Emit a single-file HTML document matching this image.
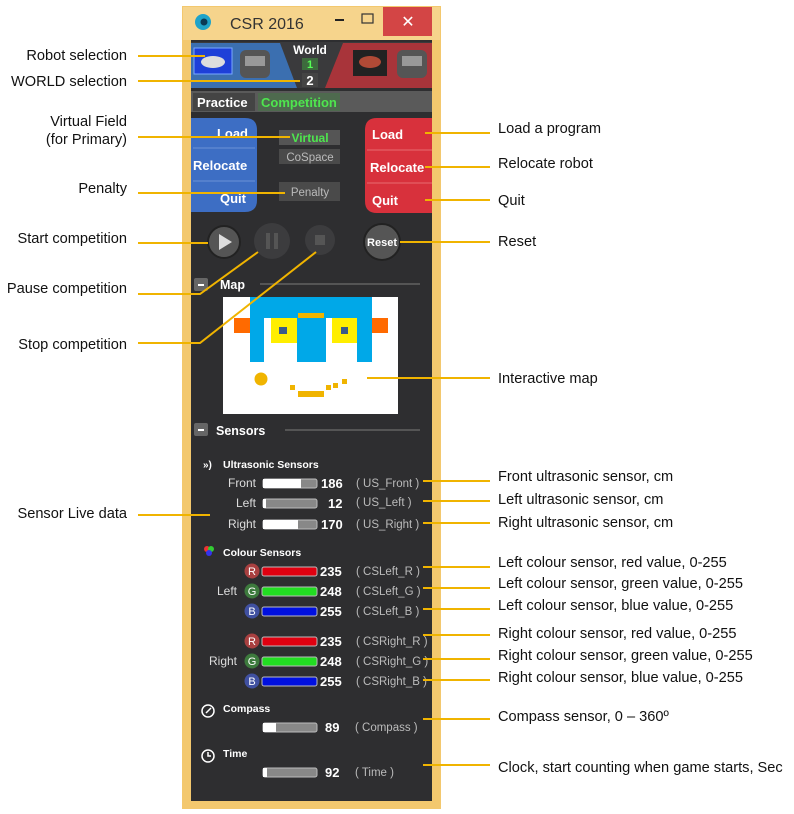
<!DOCTYPE html>
<html><head><meta charset="utf-8"><style>
html,body{margin:0;padding:0;background:#fff;}
svg{display:block;}
.a{font-family:"Liberation Sans",sans-serif;font-size:14.6px;fill:#111;}
.w{font-family:"Liberation Sans",sans-serif;font-weight:bold;fill:#fff;}
.g{font-family:"Liberation Sans",sans-serif;fill:#bbb;font-size:11.5px;}
.l{stroke:#f0b400;stroke-width:2;fill:none;}
</style></head><body>
<svg width="794" height="814" viewBox="0 0 794 814" xmlns="http://www.w3.org/2000/svg">
<rect x="182" y="6" width="259" height="803" fill="#f3c86e"/>
<rect x="183" y="7" width="257" height="33" fill="#f6d48c"/>
<rect x="191" y="40" width="241" height="761" fill="#2e2e30"/>
<circle cx="203" cy="22" r="8" fill="#1fa3c9"/><circle cx="204" cy="22" r="3.5" fill="#0b3a55"/>
<text x="230" y="29" font-family="Liberation Sans,sans-serif" font-size="16" fill="#333">CSR 2016</text>
<rect x="335" y="19" width="9" height="2" fill="#222"/>
<rect x="362" y="14" width="11" height="9" fill="none" stroke="#333" stroke-width="1.2"/>
<rect x="383" y="7" width="49" height="29" fill="#d34545"/>
<text x="408" y="27" text-anchor="middle" font-family="Liberation Sans,sans-serif" font-size="16" fill="#fff">✕</text>
<rect x="191" y="42" width="241" height="46" fill="#3a3a3c"/>
<polygon points="191,43 280,43 297,88 191,88" fill="#3b6fb0"/>
<rect x="194" y="48" width="38" height="26" fill="#1e40d8" stroke="#7aa8ff"/>
<ellipse cx="213" cy="62" rx="12" ry="6" fill="#ddd"/>
<rect x="240" y="50" width="30" height="28" rx="6" fill="#555"/><rect x="245" y="56" width="20" height="10" fill="#999"/>
<polygon points="343,43 432,43 432,88 325,88" fill="#a8343a"/>
<rect x="353" y="50" width="34" height="26" fill="#222"/><ellipse cx="370" cy="62" rx="11" ry="6" fill="#b04a36"/>
<rect x="397" y="50" width="30" height="28" rx="6" fill="#555"/><rect x="402" y="56" width="20" height="10" fill="#999"/>
<text x="310" y="54" text-anchor="middle" class="w" font-size="12">World</text>
<rect x="302" y="58" width="16" height="12" fill="#3d6b3d"/><text x="310" y="68" text-anchor="middle" font-family="Liberation Sans,sans-serif" font-size="11" fill="#5f5" font-weight="bold">1</text>
<rect x="302" y="73" width="16" height="14" fill="#444"/><text x="310" y="85" text-anchor="middle" class="w" font-size="13">2</text>
<rect x="191" y="91" width="241" height="21" fill="#5a5a5a"/>
<rect x="193" y="93" width="62" height="18" fill="#444"/>
<text x="197" y="107" class="w" font-size="13">Practice</text>
<rect x="258" y="93" width="82" height="18" fill="#4e6a4e"/>
<text x="261" y="107" font-family="Liberation Sans,sans-serif" font-weight="bold" font-size="13" fill="#4ee64e">Competition</text>
<path d="M191,118 H245 Q257,118 257,130 V200 Q257,212 245,212 H191 Z" fill="#3d6ec4"/>
<line x1="193" y1="148" x2="255" y2="148" stroke="#6a93d6"/><line x1="193" y1="181" x2="255" y2="181" stroke="#6a93d6"/>
<text x="248" y="138" text-anchor="end" class="w" font-size="13">Load</text>
<text x="193" y="170" class="w" font-size="13">Relocate</text>
<text x="246" y="203" text-anchor="end" class="w" font-size="13">Quit</text>
<rect x="279" y="130" width="61" height="15" fill="#555"/><text x="310" y="142" text-anchor="middle" font-family="Liberation Sans,sans-serif" font-weight="bold" font-size="12" fill="#4ee64e">Virtual</text>
<rect x="279" y="149" width="61" height="15" fill="#4a4a4a"/><text x="310" y="161" text-anchor="middle" class="g" font-size="12.5">CoSpace</text>
<rect x="279" y="182" width="61" height="19" fill="#4a4a4a"/><text x="310" y="196" text-anchor="middle" class="g" font-size="12.5">Penalty</text>
<path d="M432,118 H377 Q365,118 365,130 V201 Q365,213 377,213 H432 Z" fill="#d8313c"/>
<line x1="367" y1="150" x2="432" y2="150" stroke="#e86a70"/><line x1="367" y1="183" x2="432" y2="183" stroke="#e86a70"/>
<text x="372" y="139" class="w" font-size="13">Load</text>
<text x="370" y="172" class="w" font-size="13">Relocate</text>
<text x="372" y="205" class="w" font-size="13">Quit</text>
<circle cx="224" cy="242" r="16" fill="#555" stroke="#222" stroke-width="2"/><polygon points="219,234 219,250 232,242" fill="#ddd"/>
<circle cx="272" cy="241" r="18" fill="#3c3c3e"/><rect x="266" y="233" width="4" height="16" fill="#555"/><rect x="274" y="233" width="4" height="16" fill="#555"/>
<circle cx="320" cy="240" r="15" fill="#3c3c3e"/><rect x="315" y="235" width="10" height="10" fill="#555"/>
<circle cx="382" cy="242" r="18" fill="#555" stroke="#222" stroke-width="2"/><text x="382" y="246" text-anchor="middle" class="w" font-size="11">Reset</text>
<rect x="194" y="278" width="14" height="13" rx="2" fill="#666"/><rect x="198" y="284" width="6" height="2" fill="#fff"/>
<text x="220" y="289" class="w" font-size="12.5">Map</text>
<line x1="260" y1="284" x2="420" y2="284" stroke="#555" stroke-width="2"/>
<rect x="223" y="297" width="175" height="117" fill="#fff"/>
<rect x="234" y="318" width="16" height="15" fill="#ff6a00"/>
<rect x="372" y="318" width="16" height="15" fill="#ff6a00"/>
<rect x="250" y="297" width="122" height="21" fill="#00a8e8"/>
<rect x="250" y="297" width="14" height="65" fill="#00a8e8"/>
<rect x="357" y="297" width="15" height="65" fill="#00a8e8"/>
<rect x="297" y="297" width="29" height="65" fill="#00a8e8"/>
<rect x="298" y="313" width="26" height="5" fill="#f0b400"/>
<rect x="271" y="318" width="26" height="25" fill="#ffee00"/><rect x="279" y="327" width="8" height="7" fill="#3a5a8a"/>
<rect x="332" y="318" width="25" height="25" fill="#ffee00"/><rect x="341" y="327" width="7" height="7" fill="#3a5a8a"/>
<circle cx="261" cy="379" r="6.5" fill="#f0b400"/>
<rect x="290" y="385" width="5" height="5" fill="#f0b400"/><rect x="298" y="391" width="26" height="6" fill="#f0b400"/>
<rect x="326" y="385" width="5" height="5" fill="#f0b400"/><rect x="333" y="383" width="5" height="5" fill="#f0b400"/><rect x="342" y="379" width="5" height="5" fill="#f0b400"/>
<rect x="194" y="423" width="14" height="13" rx="2" fill="#666"/><rect x="198" y="429" width="6" height="2" fill="#fff"/>
<text x="216" y="435" class="w" font-size="12.5">Sensors</text>
<line x1="285" y1="430" x2="420" y2="430" stroke="#555" stroke-width="2"/>
<text x="203" y="468" class="w" font-size="10">»)</text>
<text x="223" y="468" class="w" font-size="10.5">Ultrasonic Sensors</text>
<g font-family="Liberation Sans,sans-serif" font-size="12" fill="#ddd" text-anchor="end">
<text x="256" y="487">Front</text><text x="256" y="507">Left</text><text x="256" y="528">Right</text>
</g>
<rect x="263" y="479" width="54" height="9" rx="2" fill="#888" stroke="#bbb"/><rect x="263" y="479" width="38" height="9" fill="#fff"/>
<rect x="263" y="499" width="54" height="9" rx="2" fill="#888" stroke="#bbb"/><rect x="263" y="499" width="3" height="9" fill="#fff"/>
<rect x="263" y="520" width="54" height="9" rx="2" fill="#888" stroke="#bbb"/><rect x="263" y="520" width="35" height="9" fill="#fff"/>
<text x="321" y="488" class="w" font-size="13">186</text><text x="328" y="508" class="w" font-size="13">12</text><text x="321" y="529" class="w" font-size="13">170</text>
<g class="g"><text x="356" y="487">( US_Front )</text><text x="356" y="506">( US_Left )</text><text x="356" y="528">( US_Right )</text></g>
<circle cx="207" cy="549" r="3" fill="#e33"/><circle cx="211" cy="549" r="3" fill="#3c3"/><circle cx="209" cy="553" r="3" fill="#33e"/>
<text x="223" y="556" class="w" font-size="10.5">Colour Sensors</text>
<g font-family="Liberation Sans,sans-serif" font-size="12" fill="#ddd" text-anchor="end"><text x="237" y="595">Left</text><text x="237" y="665">Right</text></g>
<g font-family="Liberation Sans,sans-serif" font-size="11" fill="#fff" text-anchor="middle">
<circle cx="252" cy="571" r="7.5" fill="#a84040"/><text x="252" y="575">R</text>
<circle cx="252" cy="591" r="7.5" fill="#3d7a3d"/><text x="252" y="595">G</text>
<circle cx="252" cy="611" r="7.5" fill="#4050a0"/><text x="252" y="615">B</text>
<circle cx="252" cy="641" r="7.5" fill="#a84040"/><text x="252" y="645">R</text>
<circle cx="252" cy="661" r="7.5" fill="#3d7a3d"/><text x="252" y="665">G</text>
<circle cx="252" cy="681" r="7.5" fill="#4050a0"/><text x="252" y="685">B</text>
</g>
<g stroke="#bbb">
<rect x="262" y="567" width="55" height="9" rx="2" fill="#e00010"/>
<rect x="262" y="587" width="55" height="9" rx="2" fill="#22dd22"/>
<rect x="262" y="607" width="55" height="9" rx="2" fill="#0010e0"/>
<rect x="262" y="637" width="55" height="9" rx="2" fill="#e00010"/>
<rect x="262" y="657" width="55" height="9" rx="2" fill="#22dd22"/>
<rect x="262" y="677" width="55" height="9" rx="2" fill="#0010e0"/>
</g>
<g class="w" font-size="13"><text x="320" y="576">235</text><text x="320" y="596">248</text><text x="320" y="616">255</text><text x="320" y="646">235</text><text x="320" y="666">248</text><text x="320" y="686">255</text></g>
<g class="g"><text x="356" y="575">( CSLeft_R )</text><text x="356" y="595">( CSLeft_G )</text><text x="356" y="615">( CSLeft_B )</text><text x="356" y="645">( CSRight_R )</text><text x="356" y="665">( CSRight_G )</text><text x="356" y="685">( CSRight_B )</text></g>
<circle cx="208" cy="711" r="6" fill="none" stroke="#fff" stroke-width="1.5"/><line x1="206" y1="713" x2="211" y2="708" stroke="#fff" stroke-width="1.5"/>
<text x="223" y="712" class="w" font-size="10.5">Compass</text>
<rect x="263" y="723" width="54" height="9" rx="2" fill="#888" stroke="#bbb"/><rect x="263" y="723" width="13" height="9" fill="#fff"/>
<text x="325" y="732" class="w" font-size="13">89</text><text x="355" y="731" class="g">( Compass )</text>
<circle cx="208" cy="756" r="6" fill="none" stroke="#fff" stroke-width="1.5"/><path d="M208,752 V756 H211" stroke="#fff" fill="none" stroke-width="1.5"/>
<text x="223" y="757" class="w" font-size="10.5">Time</text>
<rect x="263" y="768" width="54" height="9" rx="2" fill="#888" stroke="#bbb"/><rect x="263" y="768" width="4" height="9" fill="#fff"/>
<text x="325" y="777" class="w" font-size="13">92</text><text x="355" y="776" class="g">( Time )</text>
<g class="l">
<line x1="138" y1="56" x2="205" y2="56"/>
<line x1="138" y1="81" x2="300" y2="81"/>
<line x1="138" y1="137" x2="290" y2="137"/>
<line x1="138" y1="193" x2="285" y2="193"/>
<line x1="138" y1="243" x2="208" y2="243"/>
<polyline points="138,294 200,294 258,252"/>
<polyline points="138,343 200,343 316,252"/>
<line x1="138" y1="515" x2="210" y2="515"/>
<line x1="425" y1="133" x2="490" y2="133"/>
<line x1="425" y1="167" x2="490" y2="167"/>
<line x1="425" y1="200" x2="490" y2="200"/>
<line x1="400" y1="242" x2="490" y2="242"/>
<line x1="367" y1="378" x2="490" y2="378"/>
<line x1="423" y1="481" x2="490" y2="481"/>
<line x1="423" y1="501" x2="490" y2="501"/>
<line x1="423" y1="523" x2="490" y2="523"/>
<line x1="423" y1="567" x2="490" y2="567"/>
<line x1="423" y1="588" x2="490" y2="588"/>
<line x1="423" y1="609" x2="490" y2="609"/>
<line x1="423" y1="635" x2="490" y2="635"/>
<line x1="423" y1="659" x2="490" y2="659"/>
<line x1="423" y1="680" x2="490" y2="680"/>
<line x1="423" y1="719" x2="490" y2="719"/>
<line x1="423" y1="765" x2="490" y2="765"/>
</g>
<g class="a" text-anchor="end">
<text x="127" y="60">Robot selection</text>
<text x="127" y="86">WORLD selection</text>
<text x="127" y="126">Virtual Field</text>
<text x="127" y="144">(for Primary)</text>
<text x="127" y="193">Penalty</text>
<text x="127" y="243">Start competition</text>
<text x="127" y="293">Pause competition</text>
<text x="127" y="349">Stop competition</text>
<text x="127" y="518">Sensor Live data</text>
</g>
<g class="a">
<text x="498" y="133">Load a program</text>
<text x="498" y="168">Relocate robot</text>
<text x="498" y="205">Quit</text>
<text x="498" y="246">Reset</text>
<text x="498" y="383">Interactive  map</text>
<text x="498" y="481">Front ultrasonic sensor, cm</text>
<text x="498" y="504">Left ultrasonic sensor, cm</text>
<text x="498" y="527">Right ultrasonic sensor, cm</text>
<text x="498" y="567">Left colour sensor, red value, 0-255</text>
<text x="498" y="588">Left colour sensor, green value, 0-255</text>
<text x="498" y="610">Left colour sensor, blue value, 0-255</text>
<text x="498" y="638">Right colour sensor, red value, 0-255</text>
<text x="498" y="660">Right colour sensor, green value, 0-255</text>
<text x="498" y="682">Right colour sensor, blue value, 0-255</text>
<text x="498" y="721">Compass sensor, 0 – 360º</text>
<text x="498" y="772">Clock, start counting when game starts, Sec</text>
</g>
</svg>
</body></html>
